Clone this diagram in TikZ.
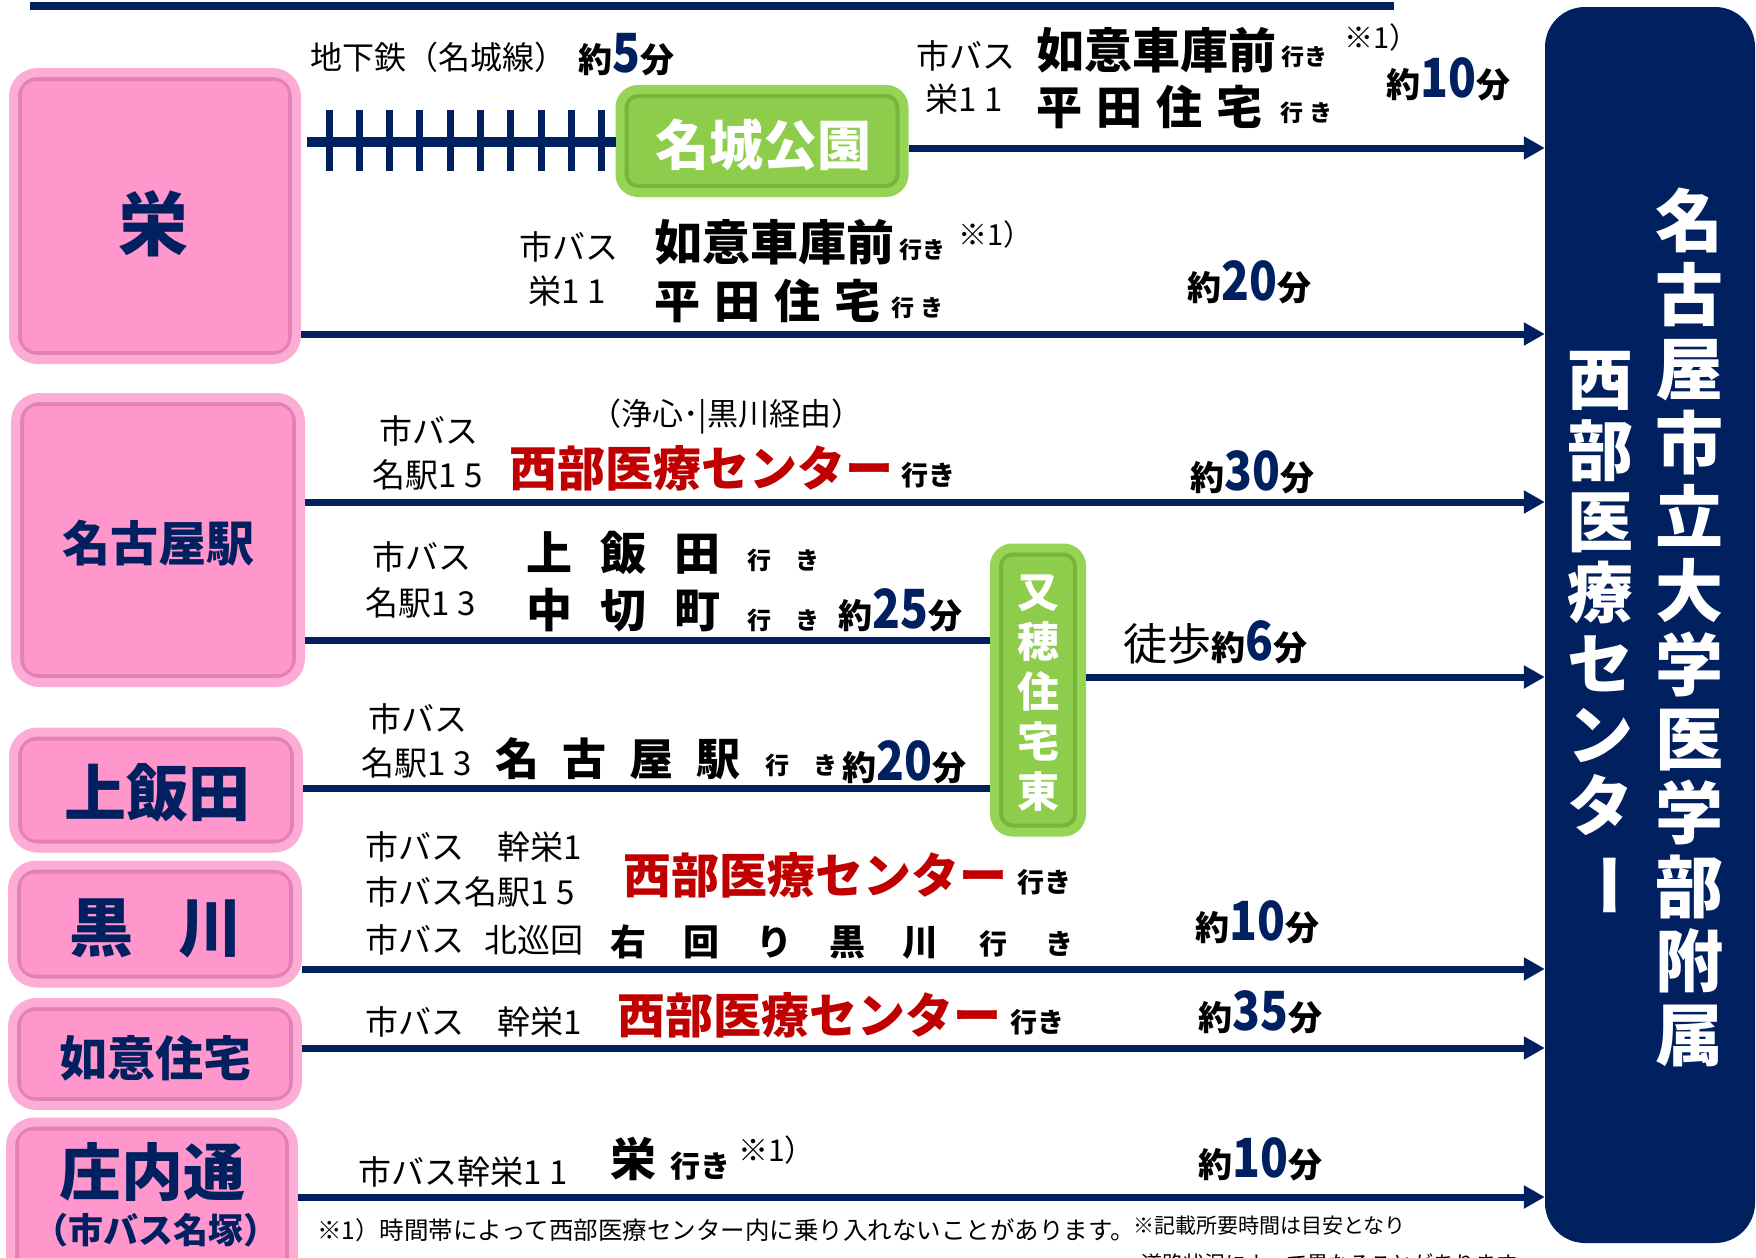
\documentclass[tikz,border=0pt]{standalone}
\usepackage{fontspec}
\setmainfont{Noto Sans CJK JP}
\newfontfamily\digitfont[FakeStretch=0.85]{Noto Sans CJK JP}
\usetikzlibrary{arrows.meta}
\definecolor{navy}{RGB}{0,32,96}
\definecolor{pinkfill}{RGB}{255,150,204}
\definecolor{pinkring}{RGB}{252,172,213}
\definecolor{pinkshade}{RGB}{200,110,160}
\definecolor{greenfill}{RGB}{142,204,76}
\definecolor{greenring}{RGB}{150,212,86}
\definecolor{greenshade}{RGB}{96,158,44}
\definecolor{darkred}{RGB}{192,0,0}

\newcommand{\fsz}[1]{\fontsize{#1}{#1}\selectfont}
\newcommand{\lsp}[1]{\hspace{#1pt}}
\newcommand{\rnum}[1]{{\addfontfeatures{LetterSpace=25}#1}}
\newcommand{\yakufun}[1]{{\bfseries\fsz{34}約{\digitfont\bfseries\fsz{54}\color{navy}#1}分}}

\tikzset{
  origin/.style={rectangle, rounded corners=24pt, draw=pinkring, line width=9pt, fill=pinkfill, inner sep=0pt,
    path picture={\draw[pinkshade, line width=5pt, rounded corners=16pt, opacity=0.5]
      ([xshift=6pt,yshift=-6pt]path picture bounding box.north west) rectangle
      ([xshift=-6pt,yshift=6pt]path picture bounding box.south east);}},
  transfer/.style={rectangle, rounded corners=18pt, draw=greenring, line width=9pt, fill=greenfill, inner sep=0pt,
    path picture={\draw[greenshade, line width=5pt, rounded corners=12pt, opacity=0.5]
      ([xshift=6pt,yshift=-6pt]path picture bounding box.north west) rectangle
      ([xshift=-6pt,yshift=6pt]path picture bounding box.south east);}},
  boxtxt/.style={text=navy, font=\bfseries, inner sep=0pt},
  txt/.style={inner sep=0pt, anchor=west},
  dest/.style={inner sep=0pt, anchor=west, text=darkred, font=\bfseries\fsz{48}},
  arr/.style={draw=navy, line width=7pt, -{Triangle[length=21pt,width=22pt]}},
  link/.style={draw=navy, line width=7pt},
  rail/.style={draw=navy, line width=10pt},
  tie/.style={draw=navy, line width=7pt}
}

\begin{document}
\begin{tikzpicture}[x=1pt,y=-1pt]
    \useasboundingbox (0,0) rectangle (1756,1258);
    \draw[navy, line width=8pt] (30,6) -- (1394,6);

    % Hospital
    \node[fill=navy, rounded corners=40pt, minimum width=210pt, minimum height=1236pt, inner sep=0pt] (hosp) at (1650,625) {};
    \node[text=white, align=center, inner sep=0pt, font=\bfseries\fontsize{68}{74}\selectfont] (hospName) at (1689,627)
        {名\\古\\屋\\市\\立\\大\\学\\医\\学\\部\\附\\属};
    \node[text=white, align=center, inner sep=0pt, font=\bfseries\fontsize{66}{71}\selectfont] (hospSub) at (1600,635)
        {西\\部\\医\\療\\セ\\ン\\タ\\\rotatebox[origin=c]{-90}{ー}};

    % Origins
    \node[origin, minimum width=283pt, minimum height=287pt] (sakae) at (155,216) {};
    \node[origin, minimum width=285pt, minimum height=285pt] (meieki) at (158,540) {};
    \node[origin, minimum width=285pt, minimum height=116pt] (kamiiida) at (156,790) {};
    \node[origin, minimum width=285pt, minimum height=118pt] (kurokawa) at (155,924) {};
    \node[origin, minimum width=285pt, minimum height=103pt] (nyoi) at (155,1054) {};
    \node[origin, minimum width=283pt, minimum height=160pt] (shonai) at (152,1202) {};
    \node[boxtxt] (sakaeT) at (153,224) {\fsz{70}栄};
    \node[boxtxt] (meiekiT) at (158,543) {\fsz{48}名古屋駅};
    \node[boxtxt] (kamiiidaT) at (157,793) {\fsz{62}上飯田};
    \node[boxtxt] (kurokawaT) at (156,928) {\fsz{64}黒\lsp{46}川};
    \node[boxtxt] (nyoiT) at (155,1058) {\fsz{48}如意住宅};
    \node[boxtxt] (shonaiT) at (152,1172) {\fsz{62}庄内通};
    \node[boxtxt] (shonaiS) at (156,1230) {\fsz{35}（市バス名塚）};

    % Transfers
    \node[transfer, minimum width=284pt, minimum height=103pt] (meijo) at (762,141) {};
    \node[text=white, font=\bfseries\fsz{54}, inner sep=0pt] (meijoT) at (763,145) {名城公園};
    \node[transfer, minimum width=87pt, minimum height=284pt] (mataho) at (1038,690) {};
    \node[text=white, align=center, inner sep=0pt, font=\bfseries\fontsize{42}{50}\selectfont] (matahoT) at (1038,693)
        {又\\穂\\住\\宅\\東};

    % Rows
    \coordinate (rail) at (0,142);
    \coordinate (rA) at (0,148);
    \coordinate (rB) at (0,334);
    \coordinate (rC) at (0,502);
    \coordinate (rD) at (0,640);
    \coordinate (rE) at (0,677);
    \coordinate (rF) at (0,788);
    \coordinate (rG) at (0,969);
    \coordinate (rH) at (0,1048);
    \coordinate (rI) at (0,1197);

    % Connections
    \draw[rail] ([xshift=6pt]sakae.east |- rail) -- (meijo.west |- rail);
    \foreach \i in {0,...,9}
        \draw[tie] (329+30.3*\i,110) -- (329+30.3*\i,171);
    \draw[arr] (meijo.east |- rA) -- (hosp.west |- rA);
    \draw[arr] (sakae.east |- rB) -- (hosp.west |- rB);
    \draw[arr] (meieki.east |- rC) -- (hosp.west |- rC);
    \draw[link] (meieki.east |- rD) -- (mataho.west |- rD);
    \draw[arr] (mataho.east |- rE) -- (hosp.west |- rE);
    \draw[link] (kamiiida.east |- rF) -- (mataho.west |- rF);
    \draw[arr] (kurokawa.east |- rG) -- (hosp.west |- rG);
    \draw[arr] (nyoi.east |- rH) -- (hosp.west |- rH);
    \draw[arr] (shonai.east |- rI) -- (hosp.west |- rI);

    % Sakae
    \node[txt] (aRail) at (310,57) {\fsz{32}地下鉄（名城線）};
    \node[txt, anchor=base west] (aTime) at (578,72) {\yakufun{5}};
    \node[txt] (aBus) at (916,56) {\fsz{33}市バス};
    \node[txt] (aNum) at (925,99) {\fsz{33}栄\rnum{11}};
    \node[txt] (aDest1) at (1036,50) {\bfseries\fsz{48}如意車庫前};
    \node[txt] (aYuki1) at (1281,57) {\bfseries\fsz{23}行き};
    \node[txt] (aNote) at (1344,37) {\fsz{29}※1）};
    \node[txt] (aDest2) at (1036,107) {\bfseries\fsz{46}平\lsp{14}田\lsp{14}住\lsp{14}宅};
    \node[txt] (aYuki2) at (1280,113) {\bfseries\fsz{23}行\lsp{6}き};
    \node[txt, anchor=base west] (aTime2) at (1386,97) {\yakufun{10}};

    \node[txt] (bBus) at (519,247) {\fsz{33}市バス};
    \node[txt] (bNum) at (528,291) {\fsz{33}栄\rnum{11}};
    \node[txt] (bDest1) at (654,242) {\bfseries\fsz{48}如意車庫前};
    \node[txt] (bYuki1) at (899,250) {\bfseries\fsz{23}行き};
    \node[txt] (bNote) at (958,234) {\fsz{29}※1）};
    \node[txt] (bDest2) at (654,301) {\bfseries\fsz{46}平\lsp{14}田\lsp{14}住\lsp{14}宅};
    \node[txt] (bYuki2) at (891,308) {\bfseries\fsz{23}行\lsp{6}き};
    \node[txt, anchor=base west] (bTime) at (1187,300) {\yakufun{20}};

    % Nagoya station
    \node[txt] (cBus) at (379,431) {\fsz{33}市バス};
    \node[txt] (cVia) at (590,417) {\fsz{31}（浄心･|黒川経由）};
    \node[txt] (cNum) at (372,475) {\fsz{33}名駅\rnum{15}};
    \node[dest] (cDest) at (509,468) {西部医療センター};
    \node[txt] (cYuki) at (901,475) {\bfseries\fsz{27}行き};
    \node[txt, anchor=base west] (cTime) at (1190,490) {\yakufun{30}};

    \node[txt] (dBus) at (372,557) {\fsz{33}市バス};
    \node[txt] (dNum) at (365,603) {\fsz{33}名駅\rnum{13}};
    \node[txt] (dDest1) at (526,553) {\bfseries\fsz{46}上\lsp{28}飯\lsp{28}田};
    \node[txt] (dYuki1) at (747,560) {\bfseries\fsz{24}行　き};
    \node[txt] (dDest2) at (526,610) {\bfseries\fsz{46}中\lsp{28}切\lsp{28}町};
    \node[txt] (dYuki2) at (747,620) {\bfseries\fsz{24}行　き};
    \node[txt, anchor=base west] (dTime) at (838,628) {\yakufun{25}};

    \node[txt, anchor=base west] (eWalk) at (1123,660) {\fsz{44}徒歩\yakufun{6}};

    % Kamiiida
    \node[txt] (fBus) at (368,719) {\fsz{33}市バス};
    \node[txt] (fNum) at (361,763) {\fsz{33}名駅\rnum{13}};
    \node[txt] (fDest) at (495,759) {\bfseries\fsz{44}名\lsp{23}古\lsp{23}屋\lsp{23}駅};
    \node[txt] (fYuki) at (765,765) {\bfseries\fsz{24}行　き};
    \node[txt, anchor=base west] (fTime) at (842,780) {\yakufun{20}};

    % Kurokawa
    \node[txt] (gBus1) at (365,847) {\fsz{33}市バス　幹栄1};
    \node[txt] (gBus2) at (365,892) {\fsz{33}市バス名駅\rnum{15}};
    \node[txt] (gBus3) at (365,940) {\fsz{33}市バス\lsp{20}北巡回};
    \node[dest] (gDest1) at (623,875) {西部医療センター};
    \node[txt] (gYuki1) at (1017,882) {\bfseries\fsz{27}行き};
    \node[txt] (gDest2) at (610,942) {\bfseries\fsz{36}右\lsp{37}回\lsp{37}り\lsp{37}黒\lsp{37}川};
    \node[txt] (gYuki2) at (979,944) {\bfseries\fsz{28}行\lsp{38}き};
    \node[txt, anchor=base west] (gTime) at (1195,940) {\yakufun{10}};

    % Nyoi
    \node[txt] (hBus) at (365,1022) {\fsz{33}市バス　幹栄1};
    \node[dest] (hDest) at (617,1015) {西部医療センター};
    \node[txt] (hYuki) at (1010,1022) {\bfseries\fsz{27}行き};
    \node[txt, anchor=base west] (hTime) at (1198,1030) {\yakufun{35}};

    % Shonai-dori
    \node[txt] (iBus) at (358,1172) {\fsz{33}市バス幹栄\rnum{11}};
    \node[txt] (iDest) at (610,1159) {\bfseries\fsz{46}栄};
    \node[txt] (iYuki) at (670,1166) {\bfseries\fsz{30}行き};
    \node[txt] (iNote) at (738,1150) {\fsz{30}※1）};
    \node[txt, anchor=base west] (iTime) at (1198,1177) {\yakufun{10}};

    % Notes
    \node[txt] (note1) at (317,1230) {\fsz{24.5}※1）時間帯によって西部医療センター内に乗り入れないことがあります。};
    \node[txt] (note2) at (1133,1226) {\fsz{21}※記載所要時間は目安となり};
    \node[txt] (note3) at (1141,1263) {\fsz{21}道路状況によって異なることがあります};
\end{tikzpicture}
\end{document}
